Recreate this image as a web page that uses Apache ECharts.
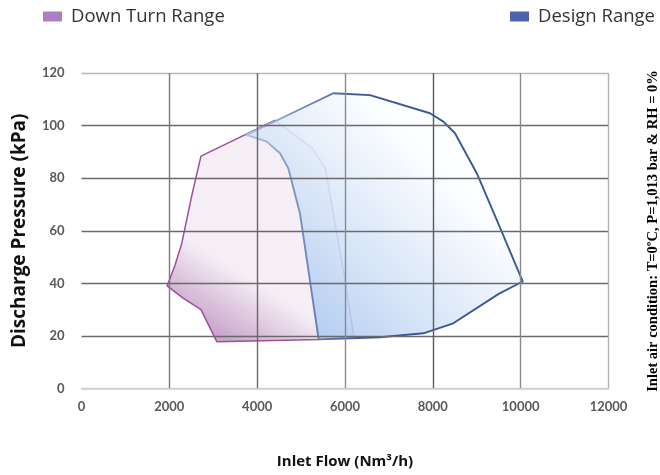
<!DOCTYPE html>
<html><head><meta charset="utf-8">
<script src="https://cdn.jsdelivr.net/npm/echarts@6/dist/echarts.min.js"></script>
<style>html,body{margin:0;padding:0;background:#fff}#c{width:660px;height:475px}</style>
</head><body><div id="c"></div>
<script>
// ---- data ----
const xTicks = [0, 2000, 4000, 6000, 8000, 10000, 12000];
const yTicks = [0, 20, 40, 60, 80, 100, 120];
const seriesNames = ['Down Turn Range', 'Design Range'];
const downTurnFlow     = [1950, 2320, 2720, 3080, 5400, 6200, 6000, 5730, 5550, 5250, 4400, 2720, 2520, 2280, 2130];
const downTurnPressure = [39,   34.3, 30,   17.8, 18.6, 19.8, 41.3, 66.8, 83.8, 91.4, 102,  88.4, 74,   55,   47];
const designFlow     = [3760, 5734,  6570,  7935,  8240,  8505, 9000, 9455, 10046, 9500, 8466, 7783, 6797, 5400, 4975, 4709, 4520, 4217];
const designPressure = [96.5, 112.3, 111.6, 104.7, 101.5, 97.1, 81.9, 64.1, 40.7,  36,   24.8, 21,   19.5, 18.7, 66.6, 83.8, 89.5, 93.9];

const chart = echarts.init(document.getElementById('c'));

function polyRender(xs, ys, style) {
  return function (params, api) {
    if (params.dataIndex !== 0) return null;
    const pts = xs.map((x, i) => api.coord([x, ys[i]]));
    return { type: 'polygon', shape: { points: pts }, style: style };
  };
}

const purpleFill = new echarts.graphic.LinearGradient(0.16, 0.9, 0.34, 0.66, [
  { offset: 0, color: '#caa6cc' },
  { offset: 1, color: '#f5eef5' }
]);
const blueFill = new echarts.graphic.LinearGradient(0.25, 0.92, 0.75, 0.35, [
  { offset: 0, color: 'rgba(176,204,242,0.88)' },
  { offset: 0.4, color: 'rgba(210,226,247,0.88)' },
  { offset: 1, color: 'rgba(253,254,255,0.88)' }
]);
const blueStroke = new echarts.graphic.LinearGradient(0.03, 0, 0.4, 0, [
  { offset: 0, color: '#a9bde0' },
  { offset: 1, color: '#3b5896' }
]);

const xs = xTicks, ys = yTicks;
const legendText = { fontFamily: 'Open Sans', fontSize: 18.5, color: '#333', padding: [0, 0, 0, 4] };
chart.setOption({
  animation: false,
  legend: [
    { data: [seriesNames[0]], left: 38, top: 2, icon: 'rect', itemWidth: 19, itemHeight: 10, textStyle: legendText },
    { data: [seriesNames[1]], right: 0, top: 2, icon: 'rect', itemWidth: 19, itemHeight: 10, textStyle: legendText }
  ],
  grid: { left: 81.5, right: 51.5, top: 73, bottom: 86.5, containLabel: false },
  xAxis: {
    type: 'value', min: xs[0], max: xs[xs.length - 1], interval: 2000, z: 5,
    name: 'Inlet Flow (Nm³/h)', nameLocation: 'middle', nameGap: 66,
    nameTextStyle: { fontFamily: 'Open Sans', fontWeight: 'bold', fontSize: 15, color: '#111' },
    axisLine: { show: true, lineStyle: { color: '#d0d0d0', width: 1.5 } },
    axisTick: { show: false },
    axisLabel: { color: '#595959', fontWeight: 'bold', fontSize: 13, fontFamily: 'Lato', margin: 12,
      formatter: v => String(v) },
    splitLine: { show: true, lineStyle: { color: ['rgba(0,0,0,0)', '#7a7a7a', '#6a6a6a', '#8a8a8a', '#5a5a5a', '#8a8a8a', '#b0b0b0'], width: 1.4 } }
  },
  yAxis: {
    type: 'value', min: ys[0], max: ys[ys.length - 1], interval: 20, z: 5,
    name: 'Discharge Pressure (kPa)', nameLocation: 'middle', nameGap: 52,
    nameTextStyle: { fontFamily: 'Open Sans', fontWeight: 'bold', fontSize: 19, color: '#111' },
    axisLine: { show: false },
    axisTick: { show: false },
    axisLabel: { color: '#595959', fontWeight: 'bold', fontSize: 13, fontFamily: 'Lato', margin: 17 },
    splitLine: { show: true, lineStyle: { color: ['#d0d0d0', '#6a6a6a', '#6a6a6a', '#6a6a6a', '#6a6a6a', '#6a6a6a', '#b8b8b8'], width: 1.4 } }
  },
  graphic: [{
    type: 'text', x: 653, y: 231, rotation: Math.PI / 2,
    style: { text: 'Inlet air condition: T=0ºC, P=1,013 bar & RH = 0%', fontFamily: 'Liberation Serif', fontWeight: 'bold', fontSize: 14.5, fill: '#000', align: 'center', verticalAlign: 'middle' }
  }],
  series: [
    { name: seriesNames[0], type: 'custom', itemStyle: { color: '#ad7fc0' },
      data: downTurnFlow.map((x, i) => [x, downTurnPressure[i]]),
      renderItem: polyRender(downTurnFlow, downTurnPressure, { fill: purpleFill, stroke: '#9c4f9f', lineWidth: 1.5, lineJoin: 'round' }),
      z: 2 },
    { name: seriesNames[1], type: 'custom', itemStyle: { color: '#4a62b0' },
      data: designFlow.map((x, i) => [x, designPressure[i]]),
      renderItem: polyRender(designFlow, designPressure, { fill: blueFill, stroke: blueStroke, lineWidth: 1.9, lineJoin: 'round' }),
      z: 3 }
  ]
});
</script></body></html>
